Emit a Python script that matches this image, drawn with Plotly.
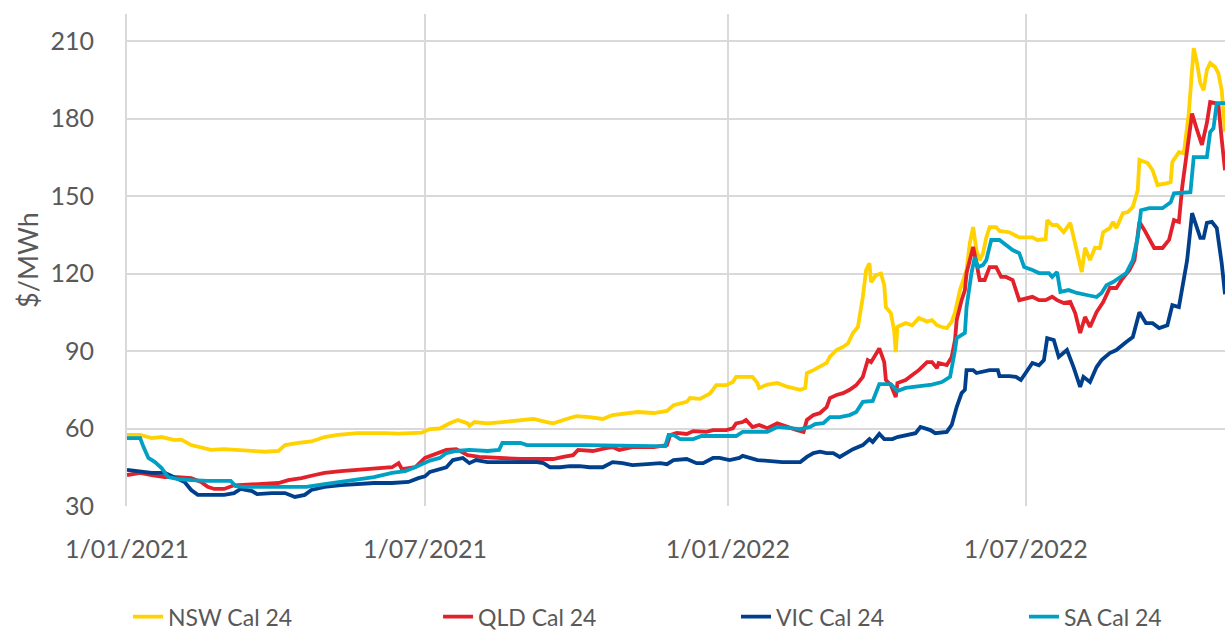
import plotly.graph_objects as go

# ---------------- data ----------------
nsw_dates = ["2021-01-01","2021-01-09","2021-01-16","2021-01-22","2021-01-30","2021-02-03","2021-02-09","2021-02-15","2021-02-21","2021-03-01",
             "2021-03-09","2021-03-18","2021-03-26","2021-04-03","2021-04-07","2021-04-15","2021-04-23","2021-05-01","2021-05-09","2021-05-21",
             "2021-05-29","2021-06-07","2021-06-15","2021-06-23","2021-06-29","2021-07-04","2021-07-10","2021-07-16","2021-07-21","2021-07-27",
             "2021-07-28","2021-07-31","2021-08-08","2021-08-17","2021-08-28","2021-09-05","2021-09-13","2021-09-17","2021-09-25","2021-10-01",
             "2021-10-09","2021-10-17","2021-10-23","2021-11-03","2021-11-07","2021-11-17","2021-11-25","2021-11-29","2021-12-07","2021-12-09",
             "2021-12-15","2021-12-21","2021-12-25","2021-12-31","2022-01-04","2022-01-06","2022-01-16","2022-01-19","2022-01-20","2022-01-25",
             "2022-01-31","2022-02-06","2022-02-14","2022-02-17","2022-02-18","2022-02-22","2022-02-26","2022-03-02","2022-03-04","2022-03-08",
             "2022-03-12","2022-03-15","2022-03-18","2022-03-21","2022-03-24","2022-03-26","2022-03-28","2022-03-29","2022-04-01","2022-04-04",
             "2022-04-06","2022-04-07","2022-04-10","2022-04-12","2022-04-13","2022-04-14","2022-04-19","2022-04-23","2022-04-27","2022-05-02",
             "2022-05-05","2022-05-08","2022-05-11","2022-05-14","2022-05-17","2022-05-19","2022-05-22","2022-05-24","2022-05-26","2022-05-28",
             "2022-05-30","2022-06-01","2022-06-03","2022-06-05","2022-06-07","2022-06-09","2022-06-13","2022-06-15","2022-06-21","2022-06-27",
             "2022-07-05","2022-07-08","2022-07-13","2022-07-14","2022-07-17","2022-07-20","2022-07-24","2022-07-28","2022-07-30","2022-08-03",
             "2022-08-04","2022-08-06","2022-08-09","2022-08-12","2022-08-15","2022-08-17","2022-08-21","2022-08-23","2022-08-25","2022-08-29",
             "2022-09-01","2022-09-04","2022-09-07","2022-09-08","2022-09-13","2022-09-16","2022-09-19","2022-09-25","2022-09-27","2022-09-28",
             "2022-10-02","2022-10-05","2022-10-08","2022-10-11","2022-10-13","2022-10-15","2022-10-17","2022-10-19","2022-10-21","2022-10-24",
             "2022-10-26","2022-10-28","2022-10-29","2022-10-30"]
nsw_values = [57.5,57.5,56.3,56.7,55.5,55.7,53.6,52.8,51.7,52.0,
              51.7,51.0,51.0,51.3,53.6,54.4,55.0,56.7,57.5,58.2,
              58.3,58.2,58.0,58.2,58.4,59.8,60.0,62.0,63.3,62.0,
              61.0,62.5,62.0,62.5,63.3,63.7,62.5,62.0,63.7,64.8,
              64.4,63.7,65.2,66.0,66.4,66.0,66.8,69.0,70.3,71.8,
              71.5,73.5,76.8,76.8,78.0,80.0,80.0,77.6,75.7,77.0,
              77.6,76.2,75.0,75.7,81.5,82.6,83.8,85.4,87.8,90.4,
              91.6,93.0,97.0,99.3,111.0,121.4,124.0,116.7,119.4,120.0,
              115.5,107.0,104.7,98.0,89.6,99.4,100.8,100.0,102.8,101.4,
              102.0,100.0,99.3,98.9,101.4,105.0,113.6,117.5,121.4,131.8,
              138.0,129.0,125.2,127.8,134.0,138.0,138.0,136.5,136.0,134.0,
              134.0,133.0,133.3,140.7,138.8,138.8,136.0,139.6,134.0,124.0,
              120.6,130.0,125.2,130.0,129.8,136.0,137.6,140.0,137.6,143.4,
              143.8,145.8,152.3,164.0,162.8,160.0,154.3,155.0,155.4,163.2,
              167.0,166.6,182.0,207.3,201.5,193.8,191.0,198.8,201.5,200.0,
              197.5,191.0,184.0,175.0]

qld_dates = ["2021-01-01","2021-01-09","2021-01-16","2021-01-24","2021-02-01","2021-02-09","2021-02-15","2021-02-19","2021-02-23","2021-03-01",
             "2021-03-07","2021-03-18","2021-03-26","2021-04-03","2021-04-09","2021-04-17","2021-04-25","2021-05-01","2021-05-11","2021-05-21",
             "2021-05-31","2021-06-11","2021-06-15","2021-06-17","2021-06-21","2021-06-25","2021-07-01","2021-07-04","2021-07-14","2021-07-20",
             "2021-07-27","2021-08-03","2021-08-15","2021-08-28","2021-09-09","2021-09-17","2021-09-23","2021-09-29","2021-10-02","2021-10-11",
             "2021-10-19","2021-10-23","2021-10-27","2021-11-04","2021-11-17","2021-11-25","2021-11-27","2021-12-01","2021-12-07","2021-12-11",
             "2021-12-19","2021-12-23","2021-12-31","2022-01-04","2022-01-06","2022-01-10","2022-01-12","2022-01-16","2022-01-20","2022-01-25",
             "2022-01-31","2022-02-06","2022-02-12","2022-02-16","2022-02-18","2022-02-22","2022-02-26","2022-03-02","2022-03-04","2022-03-08",
             "2022-03-12","2022-03-16","2022-03-20","2022-03-24","2022-03-27","2022-03-29","2022-04-01","2022-04-03","2022-04-06","2022-04-07",
             "2022-04-10","2022-04-13","2022-04-14","2022-04-19","2022-04-23","2022-04-27","2022-05-02","2022-05-05","2022-05-08","2022-05-09",
             "2022-05-14","2022-05-17","2022-05-19","2022-05-20","2022-05-23","2022-05-25","2022-05-26","2022-05-30","2022-06-01","2022-06-03",
             "2022-06-06","2022-06-09","2022-06-13","2022-06-16","2022-06-19","2022-06-23","2022-06-27","2022-07-02","2022-07-05","2022-07-09",
             "2022-07-13","2022-07-17","2022-07-20","2022-07-24","2022-07-28","2022-07-31","2022-08-03","2022-08-06","2022-08-09","2022-08-13",
             "2022-08-17","2022-08-21","2022-08-25","2022-08-29","2022-09-02","2022-09-05","2022-09-08","2022-09-11","2022-09-14","2022-09-17",
             "2022-09-22","2022-09-26","2022-09-29","2022-10-02","2022-10-04","2022-10-07","2022-10-10","2022-10-13","2022-10-16","2022-10-19",
             "2022-10-21","2022-10-24","2022-10-26","2022-10-28","2022-10-30"]
qld_values = [42.0,42.8,42.0,41.2,41.2,40.8,39.3,37.4,36.6,36.6,
              38.0,38.5,38.5,38.9,40.0,40.8,42.0,42.8,43.5,44.0,
              44.3,45.0,46.6,44.3,44.7,45.0,48.6,49.4,51.7,52.0,
              49.7,49.0,48.6,48.2,48.2,48.2,49.0,49.7,51.7,51.3,
              52.4,52.8,51.7,52.8,52.8,53.6,57.5,58.3,57.9,59.0,
              58.7,59.4,59.4,60.1,62.0,62.5,63.3,60.6,61.4,60.1,
              62.0,60.6,59.4,58.7,63.3,65.2,66.0,68.3,71.8,73.0,
              73.7,75.0,76.8,80.0,86.5,85.7,89.2,91.0,85.7,78.8,
              76.8,72.2,77.6,78.8,80.7,82.6,85.7,85.7,83.4,85.4,
              84.6,87.7,94.3,102.0,109.7,113.6,120.2,130.3,124.0,117.5,
              117.5,122.5,122.5,118.7,118.7,117.5,109.7,110.5,111.0,109.7,
              109.7,111.0,109.7,108.6,109.0,104.7,97.0,103.2,99.3,105.1,
              109.0,114.4,114.4,118.3,121.4,125.2,140.0,136.9,133.0,129.9,
              129.9,133.0,140.7,140.0,153.5,167.0,182.0,175.6,169.8,178.3,
              186.4,186.0,185.2,172.0,160.0]

vic_dates = ["2021-01-01","2021-01-09","2021-01-16","2021-01-24","2021-01-30","2021-02-05","2021-02-09","2021-02-13","2021-02-21","2021-03-01",
             "2021-03-07","2021-03-11","2021-03-18","2021-03-21","2021-03-30","2021-04-07","2021-04-13","2021-04-19","2021-04-23","2021-05-01",
             "2021-05-11","2021-05-21","2021-05-31","2021-06-11","2021-06-21","2021-06-27","2021-07-01","2021-07-04","2021-07-10","2021-07-14",
             "2021-07-18","2021-07-24","2021-07-28","2021-08-01","2021-08-08","2021-08-17","2021-08-28","2021-09-07","2021-09-11","2021-09-15",
             "2021-09-21","2021-09-27","2021-10-03","2021-10-09","2021-10-17","2021-10-23","2021-10-29","2021-11-04","2021-11-13","2021-11-21",
             "2021-11-25","2021-11-29","2021-12-07","2021-12-13","2021-12-17","2021-12-23","2021-12-27","2022-01-02","2022-01-08","2022-01-10",
             "2022-01-19","2022-01-25","2022-02-03","2022-02-14","2022-02-18","2022-02-22","2022-02-26","2022-03-02","2022-03-06","2022-03-10",
             "2022-03-14","2022-03-18","2022-03-24","2022-03-28","2022-03-30","2022-04-03","2022-04-06","2022-04-11","2022-04-14","2022-04-19",
             "2022-04-25","2022-04-28","2022-05-04","2022-05-07","2022-05-14","2022-05-17","2022-05-20","2022-05-23","2022-05-25","2022-05-26",
             "2022-05-30","2022-06-01","2022-06-05","2022-06-09","2022-06-14","2022-06-15","2022-06-21","2022-06-25","2022-06-28","2022-07-02",
             "2022-07-05","2022-07-09","2022-07-12","2022-07-14","2022-07-18","2022-07-21","2022-07-26","2022-07-30","2022-08-03","2022-08-05",
             "2022-08-09","2022-08-13","2022-08-16","2022-08-21","2022-08-25","2022-08-31","2022-09-04","2022-09-08","2022-09-12","2022-09-16",
             "2022-09-20","2022-09-25","2022-09-28","2022-10-02","2022-10-07","2022-10-10","2022-10-13","2022-10-15","2022-10-17","2022-10-19",
             "2022-10-22","2022-10-25","2022-10-28","2022-10-30"]
vic_values = [44.0,43.5,42.8,42.8,41.2,39.3,36.2,34.3,34.3,34.3,
              35.0,36.6,35.8,34.6,35.0,35.0,33.5,34.3,36.2,37.4,
              38.1,38.5,38.9,38.9,39.3,40.8,41.5,43.2,44.3,45.0,
              47.8,48.6,46.6,47.8,47.0,47.0,47.0,47.0,46.6,45.0,
              45.0,45.4,45.4,45.0,45.0,47.0,46.6,45.8,46.2,46.6,
              46.2,47.8,48.2,46.6,46.6,48.6,48.6,47.8,48.6,49.4,
              47.8,47.4,47.0,47.0,49.0,50.5,51.0,50.5,50.5,49.0,
              50.5,52.0,53.6,55.9,54.8,57.9,55.9,55.9,56.7,57.5,
              58.2,60.6,59.4,58.2,58.7,61.4,68.3,73.7,75.0,82.6,
              82.6,81.5,81.9,82.6,82.6,80.3,80.3,80.0,78.8,82.6,
              85.4,84.5,86.5,95.0,94.3,87.7,90.4,83.8,76.1,80.0,
              78.0,83.8,86.5,89.2,90.4,93.5,95.4,105.0,100.8,100.8,
              98.9,100.0,107.8,107.0,125.2,143.4,136.9,133.8,133.8,139.6,
              140.0,137.6,124.0,112.0]

sa_dates = ["2021-01-01","2021-01-09","2021-01-11","2021-01-14","2021-01-18","2021-01-22","2021-01-26","2021-02-01","2021-02-09","2021-02-19",
            "2021-03-05","2021-03-08","2021-03-13","2021-03-31","2021-04-20","2021-05-01","2021-05-11","2021-05-21","2021-05-31","2021-06-11",
            "2021-06-19","2021-06-25","2021-07-01","2021-07-04","2021-07-10","2021-07-14","2021-07-20","2021-07-28","2021-08-08","2021-08-15",
            "2021-08-17","2021-08-28","2021-09-01","2021-10-07","2021-11-17","2021-11-24","2021-11-26","2021-11-29","2021-12-03","2021-12-11",
            "2021-12-16","2022-01-06","2022-01-10","2022-01-25","2022-01-31","2022-02-06","2022-02-14","2022-02-20","2022-02-23","2022-02-28",
            "2022-03-04","2022-03-10","2022-03-16","2022-03-20","2022-03-24","2022-03-30","2022-04-03","2022-04-10","2022-04-14","2022-04-19",
            "2022-04-27","2022-05-05","2022-05-11","2022-05-16","2022-05-19","2022-05-20","2022-05-25","2022-05-26","2022-05-29","2022-05-31",
            "2022-06-02","2022-06-05","2022-06-07","2022-06-10","2022-06-15","2022-06-19","2022-06-23","2022-06-27","2022-06-30","2022-07-05",
            "2022-07-09","2022-07-15","2022-07-17","2022-07-20","2022-07-22","2022-07-27","2022-08-01","2022-08-07","2022-08-13","2022-08-16",
            "2022-08-19","2022-08-23","2022-08-27","2022-08-31","2022-09-04","2022-09-07","2022-09-09","2022-09-14","2022-09-22","2022-09-27",
            "2022-09-29","2022-10-09","2022-10-11","2022-10-19","2022-10-21","2022-10-23","2022-10-25","2022-10-30"]
sa_values = [56.3,56.3,52.9,48.6,47.0,44.7,41.2,40.4,40.0,39.7,
             39.7,37.7,37.4,37.4,37.4,38.5,39.3,40.4,41.2,42.8,
             43.5,45.0,46.6,47.6,48.6,50.5,51.3,51.7,51.3,51.7,
             54.4,54.4,53.6,53.6,53.2,53.2,57.5,57.5,55.9,55.9,
             57.1,57.1,58.7,58.7,60.6,60.2,59.8,60.6,61.7,62.1,
             64.4,64.4,65.2,66.4,70.3,70.7,77.2,77.2,74.5,75.7,
             76.5,77.0,78.0,80.0,90.4,95.0,97.0,107.0,120.2,126.4,
             122.5,123.3,125.2,133.0,133.0,131.0,129.1,127.9,122.5,121.4,
             120.2,120.2,118.7,120.6,112.9,113.6,112.5,111.7,110.9,112.5,
             115.5,116.7,118.3,120.2,125.2,134.0,144.5,145.3,145.3,147.6,
             151.1,151.5,165.1,165.1,174.8,176.3,186.0,186.0]

series_names = ["NSW Cal 24", "QLD Cal 24", "VIC Cal 24", "SA Cal 24"]
series_colors = ["#FFD200", "#E3212B", "#003F8C", "#00A0C4"]

tick_dates = ["2021-01-01", "2021-07-01", "2022-01-01", "2022-07-01"]
tick_labels = ["1/01/2021", "1/07/2021", "1/01/2022", "1/07/2022"]
y_ticks = [30, 60, 90, 120, 150, 180, 210]

# ---------------- figure ----------------
FONT = "Lato"
TXT = "#595959"
GRID = "#D9D9D9"

legend_ids = ["legend", "legend2", "legend3", "legend4"]
legend_x = [0.1045, 0.3576, 0.6008, 0.8359]   # container fractions

fig = go.Figure()
all_dates = [nsw_dates, qld_dates, vic_dates, sa_dates]
all_values = [nsw_values, qld_values, vic_values, sa_values]
for name, color, xs, ys, lid in zip(series_names, series_colors, all_dates, all_values, legend_ids):
    fig.add_trace(go.Scatter(x=xs, y=ys, mode="lines", name=name, legend=lid,
                             line=dict(color=color, width=3.8)))

legend_common = dict(orientation="h", xref="container", yref="container",
                     xanchor="left", y=0.021, yanchor="middle",
                     font=dict(family=FONT, size=23, color=TXT),
                     bgcolor="rgba(0,0,0,0)")
layout_legends = {lid: dict(x=lx, **legend_common) for lid, lx in zip(legend_ids, legend_x)}

fig.update_layout(
    width=1225, height=630,
    margin=dict(l=127, r=0, t=14, b=124),
    paper_bgcolor="white", plot_bgcolor="white",
    font=dict(family=FONT, color=TXT, size=22),
    showlegend=True,
    **layout_legends,
)
fig.update_xaxes(
    type="date", range=["2021-01-01", "2022-10-30"],
    tickvals=tick_dates, ticktext=tick_labels,
    showgrid=True, gridcolor=GRID, gridwidth=2,
    showline=False, zeroline=False, ticks="",
    ticklabelstandoff=26,
    tickfont=dict(family=FONT, size=25, color=TXT),
)
fig.update_yaxes(
    range=[30, 220.5], tickvals=y_ticks,
    showgrid=True, gridcolor=GRID, gridwidth=2,
    showline=True, linecolor=GRID, linewidth=2, zeroline=False, ticks="",
    ticklabelstandoff=26,
    tickfont=dict(family=FONT, size=25, color=TXT),
    title=dict(text="$/MWh", font=dict(family=FONT, size=27, color=TXT), standoff=4),
)

fig.write_html("out.html",
               config={"displayModeBar": False},
               post_script="document.body.style.margin='0';document.body.style.overflow='hidden';")
